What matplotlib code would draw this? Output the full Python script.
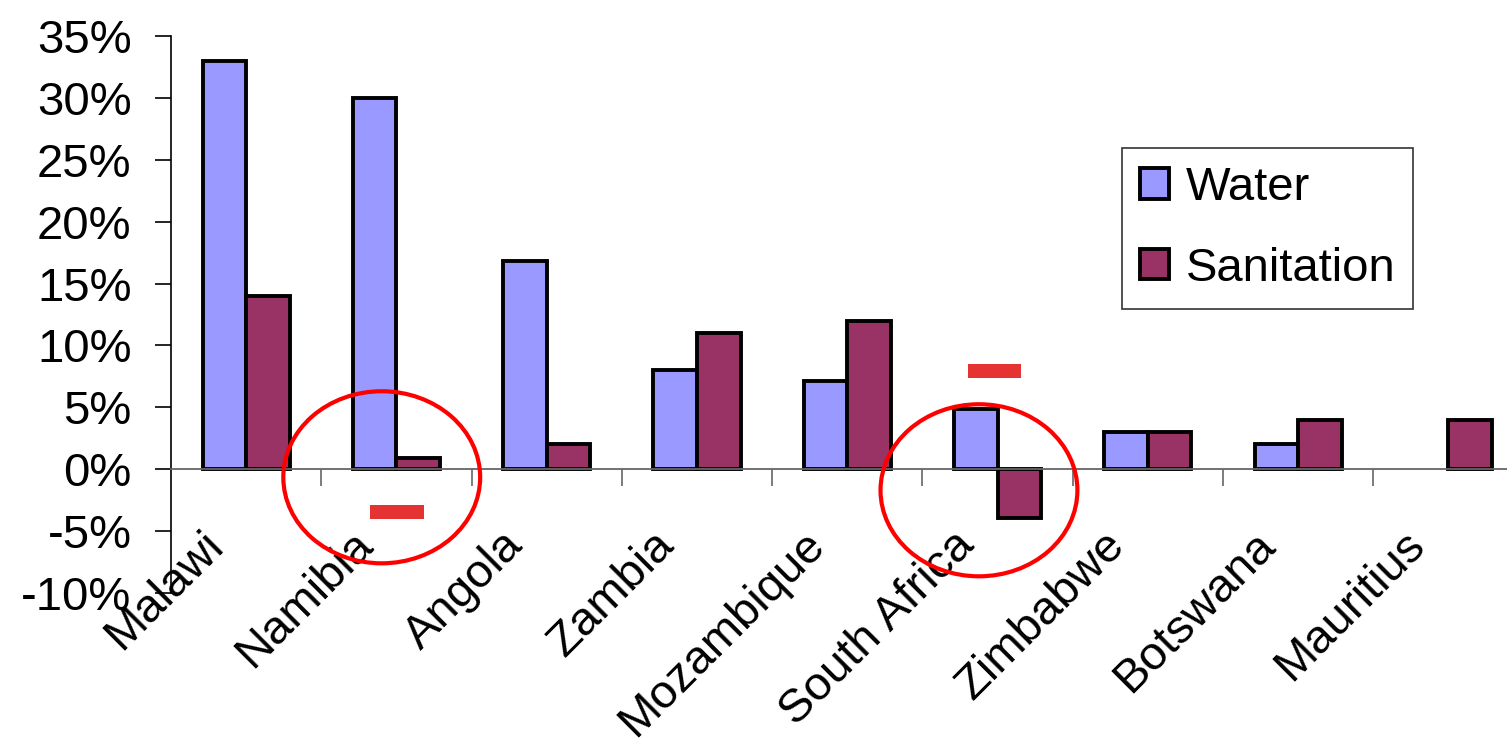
import numpy as np
import matplotlib
matplotlib.use("Agg")
import matplotlib.pyplot as plt
from matplotlib.patches import Ellipse, Rectangle
from matplotlib.ticker import FixedLocator, FuncFormatter

plt.rcParams["font.family"] = ["Liberation Sans", "DejaVu Sans"]

# change in access, percentage points
countries = ["Malawi", "Namibia", "Angola", "Zambia", "Mozambique",
             "South Africa", "Zimbabwe", "Botswana", "Mauritius"]
water = [33.0, 30.0, 16.8, 8.0, 7.1, 4.9, 3.0, 2.0, np.nan]
sanitation = [14.0, 0.9, 2.0, 11.0, 12.0, -3.9, 3.0, 4.0, 4.0]

WATER_C = "#9999FF"
SAN_C = "#993366"
FS = 34

fig = plt.figure(figsize=(15.07, 7.45), dpi=100)
# plot area runs slightly past the right edge of the canvas
ax = fig.add_axes([0.1135, 0.204, 0.8975, 0.7477])

x = np.arange(len(countries))
w = 0.29
ax.bar(x - w / 2, water, w, color=WATER_C, edgecolor="black", lw=2.8,
       label="Water", zorder=3)
ax.bar(x + w / 2, sanitation, w, color=SAN_C, edgecolor="black", lw=2.8,
       label="Sanitation", zorder=3)

ax.set_xlim(-0.5, len(countries) - 0.5)
ax.set_ylim(-10, 35)

# y axis
ax.yaxis.set_major_locator(FixedLocator(np.arange(-10, 36, 5)))
ax.yaxis.set_major_formatter(FuncFormatter(lambda v, _: f"{v:.0f}%"))
ax.tick_params(axis="y", direction="out", length=11.5, width=1.2,
               labelsize=FS, pad=17, color="black")

# x axis sits on zero, ticks between categories, labels drawn separately
ax.spines["bottom"].set_position(("data", 0))
ax.spines["bottom"].set_color("#666666")
ax.spines["bottom"].set_linewidth(1.3)
ax.spines["bottom"].set_zorder(4)
ax.xaxis.set_major_locator(FixedLocator(x + 0.5))
ax.tick_params(axis="x", direction="out", length=12, width=1.2,
               color="#666666", labelbottom=False)
ax.spines["left"].set_linewidth(1.2)
ax.spines["top"].set_visible(False)
ax.spines["right"].set_visible(False)

for i, name in enumerate(countries):
    ax.text(i - 0.2, -5.6, name, rotation=45, rotation_mode="anchor",
            ha="right", va="center", fontsize=FS, clip_on=False)

leg = fig.legend(loc="upper left", bbox_to_anchor=(0.7445, 0.8013),
                 fontsize=FS, frameon=True, fancybox=False, framealpha=1,
                 handlelength=0.62, handleheight=0.62, handletextpad=0.35,
                 labelspacing=0.78, borderpad=0.38, borderaxespad=0)
leg.get_frame().set_edgecolor("#333333")
leg.get_frame().set_linewidth(1.2)

# highlight marks around Namibia and South Africa
for cx, cy in [(0.902, -0.65), (4.876, -1.7)]:
    ax.add_patch(Ellipse((cx, cy), 1.31, 13.9, fill=False, edgecolor="#FF0000",
                         lw=3, zorder=5, clip_on=False))
for x0, y0 in [(0.826, -4.04), (4.803, 7.36)]:
    ax.add_patch(Rectangle((x0, y0), 0.355, 1.13, facecolor="#E53333",
                           edgecolor="none", zorder=5, clip_on=False))

fig.savefig("out.png", dpi=100)
